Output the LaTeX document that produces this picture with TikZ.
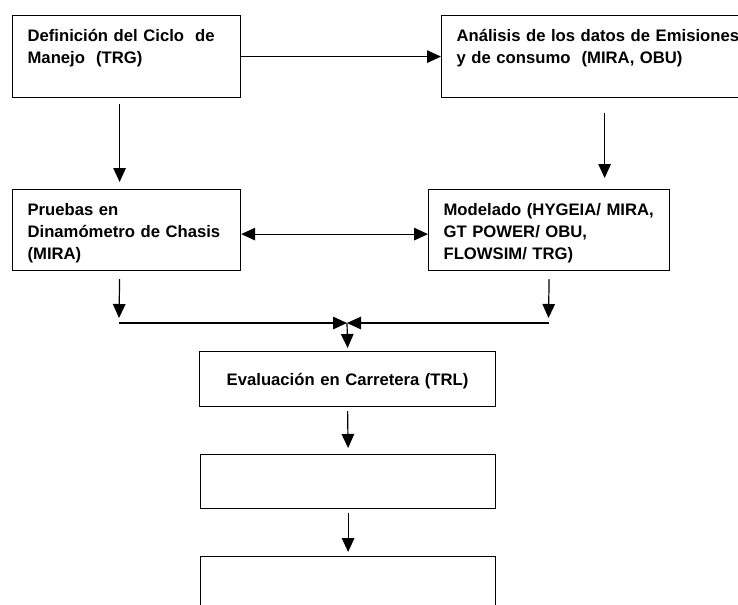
\documentclass[tikz,border=0pt]{standalone}
\usepackage{fontspec}
\setmainfont{Liberation Sans}
\usetikzlibrary{arrows.meta, positioning, calc}

\begin{document}
\begin{tikzpicture}[x=0.75pt, y=-0.75pt,
        box/.style={draw, line width=0.9pt, align=left, anchor=north west, inner xsep=11.25pt, inner ysep=10.5pt, text height=9pt, font=\fontsize{12.5}{16.6}\selectfont\bfseries},
        arr/.style={line width=0.9pt, >={Triangle[length=10.5pt, width=9.4pt]}, ->}]
        % page
        \useasboundingbox (0,0) rectangle (738,604);
        \clip (0,0) rectangle (738,604);

        % Top row
        \node[box, text width=148.5pt, text depth=31.5pt] (ciclo) at (12,15) {Definición del Ciclo~ de\\Manejo~ (TRG)};
        \node[box, text width=222pt, text depth=31.5pt] (analisis) at (441,15) {Análisis de los datos de Emisiones\\y de consumo~ (MIRA, OBU)};

        % Middle row
        \node[box, text width=148.5pt, text depth=30.75pt] (pruebas) at (12,189) {Pruebas en\\Dinamómetro de Chasis\\(MIRA)};
        \node[box, text width=158.25pt, text depth=30.75pt] (modelado) at (428,189) {Modelado (HYGEIA/ MIRA,\\GT POWER/ OBU,\\FLOWSIM/ TRG)};

        % Lower column
        \node[box, align=center, text width=199.5pt, text depth=0pt, minimum height=41.25pt] (evaluacion) at (199,351) {Evaluación en Carretera (TRL)};
        \node[box, inner sep=0pt, text height=0pt, text depth=0pt, minimum width=221.25pt, minimum height=40.5pt] (blank1) at (200,454) {};
        \node[box, inner sep=0pt, text height=0pt, text depth=0pt, minimum width=221.25pt, minimum height=40.5pt] (blank2) at (200,556) {};

        % Junction
        \coordinate (jl) at (119,323);
        \coordinate (jr) at (548.5,323);
        \coordinate (jm) at (347,323);

        % Connections
        \draw[arr] (ciclo) -- (analisis);
        \draw[arr] ($(ciclo.south)+(-7,6)$) -- ($(pruebas.north)+(-7,-7)$);
        \draw[arr] ($(analisis.south)+(0,15)$) -- ($(analisis.south |- modelado.north)+(0,-11)$);
        \draw[arr, <->] ($(pruebas.east)+(0,4)$) -- ($(modelado.west)+(0,4)$);

        \draw[arr] ($(pruebas.south)+(-7,8)$) -- ($(jl)+(0,-5)$);
        \draw[arr] ($(modelado.south)+(0,8)$) -- ($(jr)+(0,-5)$);
        \draw[arr] (jl) -- (jm);
        \draw[arr] (jr) -- (jm);
        \draw[arr] (jm) -- ($(evaluacion.north)+(0,-3)$);

        \draw[arr] ($(evaluacion.south)+(0,4)$) -- ($(blank1.north)+(0,-6)$);
        \draw[arr] ($(blank1.south)+(0,4)$) -- ($(blank2.north)+(0,-4)$);

    \end{tikzpicture}
\end{document}
